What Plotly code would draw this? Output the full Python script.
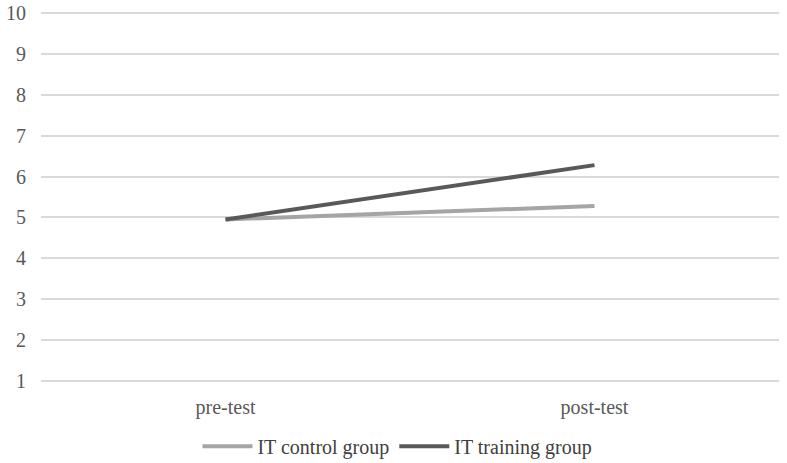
import plotly.graph_objects as go

categories = ["pre-test", "post-test"]
control_values = [4.95, 5.28]
training_values = [4.95, 6.28]
y_ticks = [1, 2, 3, 4, 5, 6, 7, 8, 9, 10]

fig = go.Figure()
fig.add_trace(go.Scatter(x=categories, y=control_values, mode="lines",
                         name="IT control group",
                         line=dict(color="#A5A5A5", width=4)))
fig.add_trace(go.Scatter(x=categories, y=training_values, mode="lines",
                         name="IT training group",
                         line=dict(color="#595959", width=4)))

fig.update_layout(
    width=787, height=463,
    margin=dict(l=41, r=8, t=9, b=78, autoexpand=False),
    paper_bgcolor="white", plot_bgcolor="white",
    font=dict(family="Liberation Serif", size=20, color="#595959"),
    showlegend=True,
    legend=dict(orientation="h", x=0.483, xanchor="center", y=-0.163, yanchor="middle",
                font=dict(size=20, color="#404040"), itemwidth=50, tracegroupgap=0),
    xaxis=dict(type="category", range=[-0.5, 1.5], showgrid=False, showline=False,
               zeroline=False, ticks="", tickfont=dict(size=20, color="#595959"),
               ticklabelstandoff=8),
    yaxis=dict(range=[0.9, 10.1], tickvals=y_ticks, showgrid=True, gridcolor="#D9D9D9",
               gridwidth=1.5, zeroline=False, showline=False, ticks="",
               tickfont=dict(size=20, color="#595959"), ticklabelstandoff=14),
)

fig.write_html("out.html", config={"displayModeBar": False},
               post_script="document.body.style.margin='0';")
